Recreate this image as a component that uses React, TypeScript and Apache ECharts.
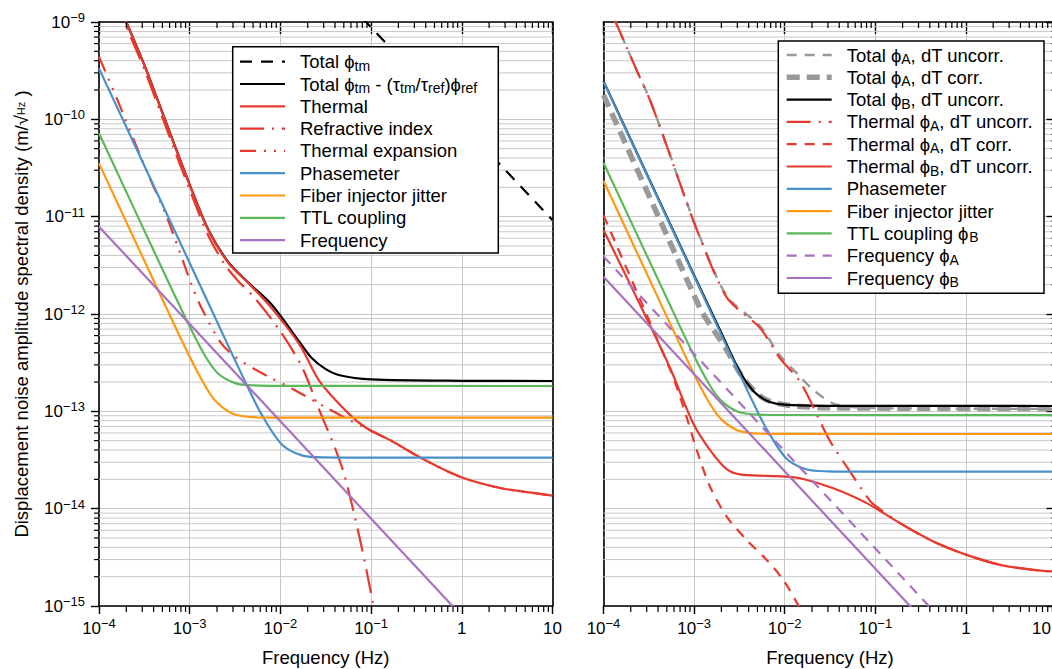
import React, { useEffect, useRef } from 'react';
import * as echarts from 'echarts';

type Pt = [number, number];

// ---------------- Left panel (phi_tm) ----------------
const totalTmL: Pt[] = [[0.08, 1.1e-9], [1, 9.0e-11], [10, 9.2e-12]];
const totalCorrL: Pt[] = [[1.5e-4, 1.9e-9], [2.02e-4, 9.8e-10], [3.21e-4, 3.5e-10], [5.35e-4, 9.9e-11], [1.05e-3, 1.9e-11], [1.6e-3, 7.4e-12], [2.67e-3, 3.4e-12], [4.43e-3, 2.1e-12], [8.0e-3, 1.25e-12], [1.64e-2, 5.1e-13], [2.2e-2, 3.55e-13], [3.1e-2, 2.75e-13], [4.5e-2, 2.35e-13], [0.1, 2.13e-13], [1, 2.06e-13], [10, 2.05e-13]];
const thermalL: Pt[] = [[1.5e-4, 1.85e-9], [2.02e-4, 9.7e-10], [3.21e-4, 3.47e-10], [5.35e-4, 9.8e-11], [1.05e-3, 1.88e-11], [1.6e-3, 7.3e-12], [2.67e-3, 3.34e-12], [4.43e-3, 2.08e-12], [8.0e-3, 1.15e-12], [1.64e-2, 4.8e-13], [2.73e-2, 2.01e-13], [5.85e-2, 9.2e-14], [8.95e-2, 6.7e-14], [0.174, 4.88e-14], [0.373, 3.24e-14], [0.955, 2.13e-14], [2.64, 1.63e-14], [6.1, 1.45e-14], [10, 1.36e-14]];
const refractiveL: Pt[] = [[1.5e-4, 1.75e-9], [2.02e-4, 8.8e-10], [3.21e-4, 3.15e-10], [5.35e-4, 8.8e-11], [1.05e-3, 1.68e-11], [1.6e-3, 6.4e-12], [2.45e-3, 3.2e-12], [3.4e-3, 2.2e-12], [5.25e-3, 1.45e-12], [9.9e-3, 6.7e-13], [1.72e-2, 2.88e-13], [2.6e-2, 1.11e-13], [4.75e-2, 2.7e-14], [7.55e-2, 4.8e-15], [0.105, 1.07e-15], [0.115, 7e-16]];
const expansionL: Pt[] = [[1e-4, 4.4e-10], [1.57e-4, 1.64e-10], [3.21e-4, 3.24e-11], [5.57e-4, 1.0e-11], [1.05e-3, 1.99e-12], [1.3e-3, 1.24e-12], [2.16e-3, 5.2e-13], [3.16e-3, 3.64e-13], [5.0e-3, 2.77e-13], [8.0e-3, 2.18e-13], [1.33e-2, 1.72e-13], [3.1e-2, 1.11e-13], [5.4e-2, 8.4e-14], [8.95e-2, 6.65e-14], [0.174, 4.86e-14], [0.373, 3.23e-14], [0.955, 2.13e-14], [2.64, 1.63e-14], [6.1, 1.45e-14], [10, 1.36e-14]];
const phasemeterL: Pt[] = [[1e-4, 3.34e-10], [1e-3, 3.34e-12], [2.67e-3, 4.68e-13], [4.43e-3, 1.73e-13], [6.2e-3, 9.3e-14], [1.03e-2, 4.59e-14], [1.72e-2, 3.53e-14], [3e-2, 3.36e-14], [0.1, 3.34e-14], [10, 3.34e-14]];
const fiberL: Pt[] = [[1e-4, 3.53e-11], [4.9e-4, 1.47e-12], [1e-3, 3.63e-13], [1.5e-3, 1.79e-13], [2e-3, 1.23e-13], [3e-3, 9.45e-14], [5e-3, 8.7e-14], [1e-2, 8.62e-14], [10, 8.6e-14]];
const ttlL: Pt[] = [[1e-4, 7.2e-11], [5e-4, 2.88e-12], [1e-3, 7.43e-13], [1.48e-3, 3.7e-13], [2.05e-3, 2.45e-13], [3.16e-3, 1.95e-13], [4.5e-3, 1.86e-13], [1e-2, 1.83e-13], [10, 1.82e-13]];
const frequencyL: Pt[] = [[1e-4, 7.9e-12], [1, 7.9e-16]];

// ---------------- Right panel (phi_A / phi_B) ----------------
const totalAUncorrR: Pt[] = [[1.3e-4, 1.1e-9], [1.52e-4, 7.9e-10], [2.32e-4, 3.21e-10], [3.26e-4, 1.58e-10], [5.19e-4, 4.84e-11], [6.98e-4, 2.2e-11], [9.8e-4, 9.2e-12], [1.16e-3, 6.2e-12], [1.63e-3, 2.85e-12], [2.29e-3, 1.52e-12], [2.95e-3, 1.2e-12], [5.33e-3, 7.5e-13], [8.87e-3, 3.75e-13], [1.48e-2, 2.27e-13], [2.07e-2, 1.66e-13], [3.45e-2, 1.2e-13], [6e-2, 1.1e-13], [0.2, 1.07e-13], [10, 1.06e-13]];
const totalACorrR: Pt[] = [[1e-4, 1.78e-10], [3e-4, 1.85e-11], [1e-3, 1.55e-12], [1.26e-3, 1.0e-12], [2.29e-3, 4.27e-13], [3.21e-3, 2.46e-13], [4.5e-3, 1.66e-13], [6.3e-3, 1.31e-13], [1.05e-2, 1.16e-13], [3e-2, 1.09e-13], [10, 1.07e-13]];
const totalBUncorrR: Pt[] = [[1e-4, 2.47e-10], [1e-3, 2.5e-12], [2e-3, 6.4e-13], [3.2e-3, 2.55e-13], [4.5e-3, 1.62e-13], [6e-3, 1.32e-13], [8e-3, 1.2e-13], [1.2e-2, 1.16e-13], [3e-2, 1.14e-13], [10, 1.135e-13]];
const thermalAUncorrR: Pt[] = [[1.3e-4, 1.1e-9], [1.52e-4, 7.9e-10], [2.32e-4, 3.2e-10], [3.26e-4, 1.57e-10], [5.19e-4, 4.8e-11], [6.98e-4, 2.2e-11], [9.8e-4, 9.1e-12], [1.16e-3, 6.1e-12], [1.63e-3, 2.8e-12], [2.29e-3, 1.48e-12], [2.95e-3, 1.15e-12], [5.33e-3, 7.2e-13], [8.87e-3, 3.5e-13], [1.48e-2, 2.01e-13], [2.91e-2, 5.7e-14], [3.45e-2, 4.33e-14], [5.26e-2, 2.4e-14], [8.75e-2, 1.2e-14], [0.104, 1.04e-14], [0.187, 7.1e-15], [0.437, 4.6e-15], [1.02, 3.35e-15], [2.38, 2.65e-15], [5.55, 2.35e-15], [10, 2.25e-15]];
const thermalACorrR: Pt[] = [[1e-4, 1.03e-11], [5.42e-4, 2.7e-13], [7.6e-4, 1.12e-13], [1.07e-3, 4.0e-14], [1.5e-3, 1.68e-14], [2.29e-3, 8.3e-15], [3.81e-3, 4.76e-15], [6.33e-3, 2.97e-15], [9.65e-3, 1.85e-15], [1.41e-2, 1.02e-15], [1.6e-2, 8e-16]];
const thermalBUncorrR: Pt[] = [[1e-4, 7.3e-12], [3e-4, 9.0e-13], [5.42e-4, 2.8e-13], [9.8e-4, 7.5e-14], [1.5e-3, 4.0e-14], [2.29e-3, 2.55e-14], [3.21e-3, 2.25e-14], [6.3e-3, 2.17e-14], [1.05e-2, 2.13e-14], [1.6e-2, 2.02e-14], [3.44e-2, 1.62e-14], [8.04e-2, 1.14e-14], [0.187, 7.1e-15], [0.437, 4.6e-15], [1.02, 3.35e-15], [2.38, 2.65e-15], [5.55, 2.35e-15], [10, 2.25e-15]];
const phasemeterR: Pt[] = [[1e-4, 2.44e-10], [1e-3, 2.44e-12], [2.67e-3, 3.42e-13], [4.43e-3, 1.26e-13], [6.2e-3, 6.79e-14], [1.03e-2, 3.32e-14], [1.72e-2, 2.54e-14], [3e-2, 2.42e-14], [0.1, 2.4e-14], [10, 2.4e-14]];
const fiberR: Pt[] = [[1e-4, 2.34e-11], [5e-4, 9.4e-13], [1e-3, 2.41e-13], [1.5e-3, 1.19e-13], [2e-3, 8.27e-14], [3e-3, 6.4e-14], [5e-3, 5.92e-14], [1e-2, 5.86e-14], [10, 5.85e-14]];
const ttlBR: Pt[] = [[1e-4, 3.58e-11], [5e-4, 1.45e-12], [1e-3, 3.7e-13], [1.5e-3, 1.83e-13], [2e-3, 1.28e-13], [3e-3, 9.98e-14], [5e-3, 9.26e-14], [1e-2, 9.17e-14], [10, 9.15e-14]];
const freqAR: Pt[] = [[1e-4, 3.9e-12], [1, 3.9e-16]];
const freqBR: Pt[] = [[1e-4, 2.42e-12], [1, 2.42e-16]];

// axis ranges / tick decades
const X_MIN = 1e-4, X_MAX = 10;
const Y_MIN = 1e-15, Y_MAX = 1e-9;
const xDecades = [-4, -3, -2, -1, 0];
const yDecades = [-15, -14, -13, -12, -11, -10];
const minorMultipliers = [2, 3, 4, 5, 6, 7, 8, 9];

const FONT = "'Liberation Sans', Arial, Helvetica, sans-serif";
const RED = '#e8392e', BLUE = '#4a90c8', ORANGE = '#ff9812', GREEN = '#5cb85a', PURPLE = '#a872c0', GRAY = '#999999', BLACK = '#000000';
const GRID_COLOR = '#c8c8c8';

interface Spec { data: Pt[]; color: string; width: number; dash?: number[]; smooth?: number; label: string }

const leftSpecs: Spec[] = [
  { data: totalTmL, color: BLACK, width: 2.2, dash: [12, 9], label: '{n|Total ϕ}{u|tm}' },
  { data: totalCorrL, color: BLACK, width: 2.2, smooth: 0.3, label: '{n|Total ϕ}{u|tm}{n| - (τ}{u|tm}{n|/τ}{u|ref}{n|)ϕ}{u|ref}' },
  { data: thermalL, color: RED, width: 2.2, smooth: 0.3, label: '{n|Thermal}' },
  { data: refractiveL, color: RED, width: 2.2, dash: [24, 8, 2, 8], smooth: 0.3, label: '{n|Refractive index}' },
  { data: expansionL, color: RED, width: 2.2, dash: [16, 8, 2, 8, 2, 8], smooth: 0.3, label: '{n|Thermal expansion}' },
  { data: phasemeterL, color: BLUE, width: 2.2, smooth: 0.3, label: '{n|Phasemeter}' },
  { data: fiberL, color: ORANGE, width: 2.2, smooth: 0.3, label: '{n|Fiber injector jitter}' },
  { data: ttlL, color: GREEN, width: 2.2, smooth: 0.3, label: '{n|TTL coupling}' },
  { data: frequencyL, color: PURPLE, width: 2.2, label: '{n|Frequency}' },
];

const rightSpecs: Spec[] = [
  { data: totalAUncorrR, color: GRAY, width: 2.4, dash: [10, 8], smooth: 0.3, label: '{n|Total ϕ}{u|A}{n|, dT uncorr.}' },
  { data: totalACorrR, color: GRAY, width: 5.5, dash: [13, 7], smooth: 0.3, label: '{n|Total ϕ}{u|A}{n|, dT corr.}' },
  { data: totalBUncorrR, color: BLACK, width: 2.2, smooth: 0.3, label: '{n|Total ϕ}{u|B}{n|, dT uncorr.}' },
  { data: thermalAUncorrR, color: RED, width: 2.2, dash: [24, 8, 2, 8], smooth: 0.3, label: '{n|Thermal ϕ}{u|A}{n|, dT uncorr.}' },
  { data: thermalACorrR, color: RED, width: 2.2, dash: [10, 8], smooth: 0.3, label: '{n|Thermal ϕ}{u|A}{n|, dT corr.}' },
  { data: thermalBUncorrR, color: RED, width: 2.2, smooth: 0.3, label: '{n|Thermal ϕ}{u|B}{n|, dT uncorr.}' },
  { data: phasemeterR, color: BLUE, width: 2.2, smooth: 0.3, label: '{n|Phasemeter}' },
  { data: fiberR, color: ORANGE, width: 2.2, smooth: 0.3, label: '{n|Fiber injector jitter}' },
  { data: ttlBR, color: GREEN, width: 2.2, smooth: 0.3, label: '{n|TTL coupling ϕ}{u|B}' },
  { data: freqAR, color: PURPLE, width: 2.2, dash: [10, 8], label: '{n|Frequency ϕ}{u|A}' },
  { data: freqBR, color: PURPLE, width: 2.2, label: '{n|Frequency ϕ}{u|B}' },
];

const GRIDS = [
  { left: 99, top: 22, width: 453.5, height: 584 },
  { left: 603.5, top: 22, width: 453, height: 584 },
];

const legendRich = {
  n: { fontSize: 18.5, lineHeight: 22, fontFamily: FONT, color: '#000' },
  u: { fontSize: 14, lineHeight: 13, fontFamily: FONT, color: '#000', verticalAlign: 'bottom' },
};

const tickRich = {
  b: { fontSize: 17, lineHeight: 22, fontFamily: FONT, color: '#000' },
  s: { fontSize: 13, lineHeight: 13, fontFamily: FONT, color: '#000', verticalAlign: 'top' },
  // last label of the right panel sits at the window edge: shifted left so it stays readable
  r: { fontSize: 17, lineHeight: 22, fontFamily: FONT, color: '#000', padding: [0, 30, 0, 0] },
};

function powLabel(v: number): string {
  const e = Math.round(Math.log10(v));
  if (e === 0) return '{b|1}';
  if (e === 1) return '{b|10}';
  return `{b|10}{s|−${-e}}`;
}

function powLabelRight(v: number): string {
  const e = Math.round(Math.log10(v));
  if (e === 1) return '{r|10}';
  return powLabel(v);
}

function buildOption(): any {
  const xMinor: number[] = [];
  xDecades.forEach((d) => minorMultipliers.forEach((m) => xMinor.push(m * Math.pow(10, d))));
  const yMinor: number[] = [];
  yDecades.forEach((d) => minorMultipliers.forEach((m) => yMinor.push(m * Math.pow(10, d))));

  const xAxis: any[] = [];
  const yAxis: any[] = [];
  const series: any[] = [];
  const tickStyle = { color: '#000', width: 1.4 };
  const axisLineStyle = { color: '#000', width: 1.6 };

  GRIDS.forEach((_, g) => {
    xAxis.push({
      type: 'log', logBase: 10, min: X_MIN, max: X_MAX, gridIndex: g, position: 'bottom',
      axisLine: { show: true, onZero: false, lineStyle: axisLineStyle },
      axisTick: { show: true, inside: false, length: 8, lineStyle: tickStyle },
      axisLabel: {
        show: true, margin: 11, formatter: g === 1 ? powLabelRight : powLabel, rich: tickRich,
        hideOverlap: false, showMinLabel: true, showMaxLabel: true,
      },
      splitLine: { show: true, lineStyle: { color: GRID_COLOR, width: 1 } },
      name: 'Frequency (Hz)', nameLocation: 'middle', nameGap: 42,
      nameTextStyle: { fontSize: 18.5, fontFamily: FONT, color: '#000' },
    });
    xAxis.push({
      type: 'log', logBase: 10, min: X_MIN, max: X_MAX, gridIndex: g, position: 'top',
      axisLine: { show: true, onZero: false, lineStyle: axisLineStyle },
      axisTick: { show: true, inside: true, length: 12, lineStyle: tickStyle },
      axisLabel: { show: false }, splitLine: { show: false },
    });
    yAxis.push({
      type: 'log', logBase: 10, min: Y_MIN, max: Y_MAX, gridIndex: g, position: 'left',
      axisLine: { show: true, onZero: false, lineStyle: axisLineStyle },
      axisTick: { show: g === 0, inside: false, length: 8, lineStyle: tickStyle },
      axisLabel: { show: g === 0, margin: 14, formatter: powLabel, rich: tickRich, hideOverlap: false, showMinLabel: true, showMaxLabel: true },
      splitLine: { show: true, lineStyle: { color: GRID_COLOR, width: 1 } },
    });
    yAxis.push({
      type: 'log', logBase: 10, min: Y_MIN, max: Y_MAX, gridIndex: g, position: 'right',
      axisLine: { show: true, onZero: false, lineStyle: axisLineStyle },
      axisTick: { show: g === 1, inside: true, length: 10, lineStyle: tickStyle },
      axisLabel: { show: false }, splitLine: { show: false },
    });

    // minor horizontal grid lines + minor y ticks
    series.push({
      type: 'custom', xAxisIndex: g * 2, yAxisIndex: g * 2, silent: true, clip: false, z: 1,
      data: yMinor.map((v) => [1, v]),
      renderItem: (params: any, api: any) => {
        const cs = params.coordSys;
        const y = api.coord([1, api.value(1)])[1];
        const tick = g === 0
          ? { x1: cs.x - 5, x2: cs.x }
          : { x1: cs.x + cs.width - 5, x2: cs.x + cs.width };
        return {
          type: 'group', children: [
            { type: 'line', shape: { x1: cs.x, y1: y, x2: cs.x + cs.width, y2: y }, style: { stroke: GRID_COLOR, lineWidth: 1 } },
            { type: 'line', shape: { x1: tick.x1, y1: y, x2: tick.x2, y2: y }, style: { stroke: '#000', lineWidth: 1.2 } },
          ],
        };
      },
    });
    // minor x ticks (bottom outward, top inward)
    series.push({
      type: 'custom', xAxisIndex: g * 2, yAxisIndex: g * 2, silent: true, clip: false, z: 4,
      data: xMinor.map((v) => [v, 1e-12]),
      renderItem: (params: any, api: any) => {
        const cs = params.coordSys;
        const x = api.coord([api.value(0), 1e-12])[0];
        const b = cs.y + cs.height;
        return {
          type: 'group', children: [
            { type: 'line', shape: { x1: x, y1: b, x2: x, y2: b + 6 }, style: { stroke: '#000', lineWidth: 1.2 } },
            { type: 'line', shape: { x1: x, y1: cs.y, x2: x, y2: cs.y + 6 }, style: { stroke: '#000', lineWidth: 1.2 } },
          ],
        };
      },
    });

    const specs = g === 0 ? leftSpecs : rightSpecs;
    specs.forEach((s) => {
      series.push({
        type: 'line', xAxisIndex: g * 2, yAxisIndex: g * 2, data: s.data, showSymbol: false, symbol: 'none',
        smooth: s.smooth || false, silent: true, z: 3,
        lineStyle: { color: s.color, width: s.width, type: s.dash || 'solid', cap: 'butt' },
      });
    });
  });

  const legendGraphic = (specs: Spec[], box: { x: number; y: number; w: number; h: number }, first: number, step: number, lx1: number, lx2: number, tx: number) => {
    const children: any[] = [
      { type: 'rect', z: 100, shape: { x: box.x, y: box.y, width: box.w, height: box.h }, style: { fill: '#fff', stroke: '#000', lineWidth: 1.5 } },
    ];
    specs.forEach((s, i) => {
      const y = first + i * step;
      children.push({ type: 'line', z: 101, shape: { x1: lx1, y1: y, x2: lx2, y2: y }, style: { stroke: s.color, lineWidth: s.width, lineDash: s.dash || null } });
      children.push({ type: 'text', z: 101, x: tx, y, style: { text: s.label, rich: legendRich, align: 'left', verticalAlign: 'middle' } });
    });
    return { type: 'group', z: 100, children };
  };

  const graphic = {
    elements: [
      legendGraphic(leftSpecs, { x: 232.7, y: 46.7, w: 265.6, h: 206.3 }, 61.7, 22.3, 240, 285, 300),
      legendGraphic(rightSpecs, { x: 778.3, y: 41, w: 265.7, h: 252.3 }, 55, 22.3, 786.7, 831.7, 846.7),
      {
        type: 'text', x: 21, y: 314, rotation: Math.PI / 2, z: 100,
        style: {
          text: '{n|Displacement noise amplitude spectral density (m/√}{h|Hz}{n| )}',
          rich: { n: { fontSize: 18.5, fontFamily: FONT, color: '#000', lineHeight: 22 }, h: { fontSize: 11, fontFamily: FONT, color: '#000', lineHeight: 22 } },
          align: 'center', verticalAlign: 'middle',
        },
      },
    ],
  };

  return {
    animation: false,
    backgroundColor: '#fff',
    textStyle: { fontFamily: FONT },
    grid: GRIDS.map((g) => ({ ...g, containLabel: false, outerBoundsMode: 'none' })),
    xAxis, yAxis, series, graphic,
  };
}

export default function App() {
  const ref = useRef<HTMLDivElement>(null);
  useEffect(() => {
    const chart = echarts.init(ref.current!, undefined, { renderer: 'svg' });
    chart.setOption(buildOption());
    return () => chart.dispose();
  }, []);
  return <div ref={ref} style={{ position: 'fixed', left: 0, top: 0, width: 1052, height: 669, background: '#fff' }} />;
}
